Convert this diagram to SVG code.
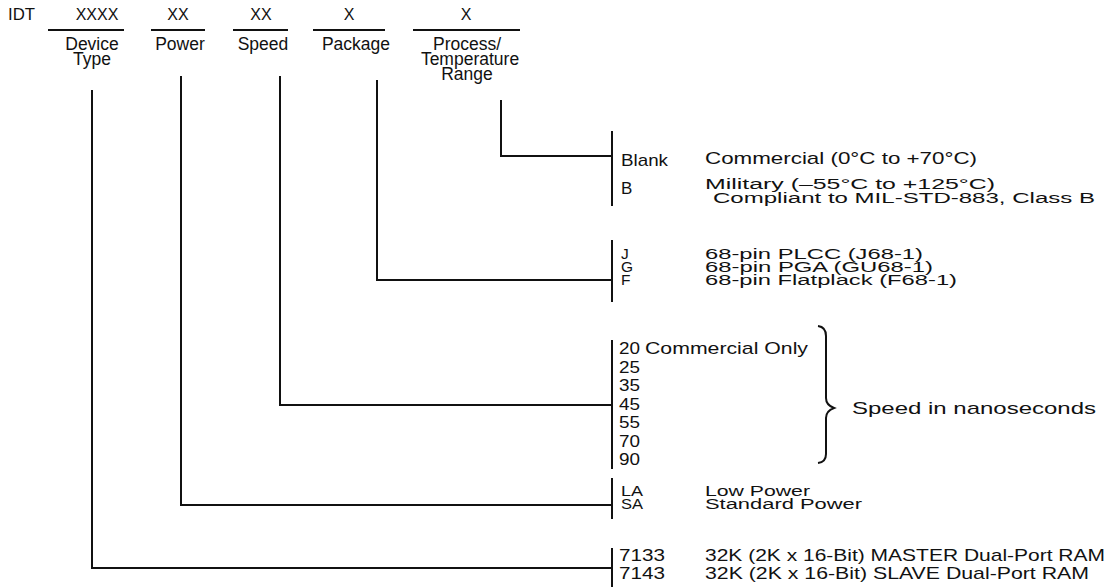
<svg xmlns="http://www.w3.org/2000/svg" width="1111" height="587" viewBox="0 0 1111 587">
<style>
text{font-family:"Liberation Sans",Arial,Helvetica,sans-serif;font-size:17px;fill:#111}
.h{font-size:16px}
.l{font-size:17.5px}
.s{font-size:15.5px}
.c{text-anchor:middle}
.ln{stroke:#111;stroke-width:2;fill:none}
</style>
<rect width="1111" height="587" fill="#fff"/>
<g id="header">
<text class="h" x="8" y="20" textLength="27" lengthAdjust="spacingAndGlyphs">IDT</text>
<text class="h c" x="97" y="20">XXXX</text>
<text class="h c" x="178" y="20">XX</text>
<text class="h c" x="261" y="20">XX</text>
<text class="h c" x="349" y="20">X</text>
<text class="h c" x="466" y="20">X</text>
<path class="ln" d="M48 30H124M151 30H205M233 30H288M313 30H385M413 30H520"/>
</g>
<g id="device-type"><text class="l c" x="92" y="50">Device</text><text class="l c" x="92" y="65">Type</text></g>
<g id="power"><text class="l c" x="180" y="50">Power</text></g>
<g id="speed"><text class="l c" x="263" y="50">Speed</text></g>
<g id="package"><text class="l c" x="356" y="50">Package</text></g>
<g id="process"><text class="l c" x="467" y="50">Process/</text><text class="l c" x="470" y="65">Temperature</text><text class="l c" x="467" y="80">Range</text></g>
<g id="connectors">
<path class="ln" d="M501 100V156H612"/>
<path class="ln" d="M377 80V280H612"/>
<path class="ln" d="M280 76V405H612"/>
<path class="ln" d="M181 76V505H612"/>
<path class="ln" d="M92 90V568H612"/>
</g>
<g id="opt-process">
<path class="ln" d="M612 131V206"/>
<text x="621" y="166" textLength="47" lengthAdjust="spacingAndGlyphs">Blank</text>
<text x="705" y="164" textLength="272" lengthAdjust="spacingAndGlyphs">Commercial (0°C to +70°C)</text>
<text x="621" y="194">B</text>
<text class="s" x="705" y="189" textLength="290" lengthAdjust="spacingAndGlyphs">Military (–55°C to +125°C)</text>
<text class="s" x="713" y="203" textLength="382" lengthAdjust="spacingAndGlyphs">Compliant to MIL-STD-883, Class B</text>
</g>
<g id="opt-package">
<path class="ln" d="M612 240V302"/>
<text class="s" x="621" y="259">J</text><text class="s" x="705" y="259" textLength="218" lengthAdjust="spacingAndGlyphs">68-pin PLCC (J68-1)</text>
<text class="s" x="621" y="272">G</text><text class="s" x="705" y="272" textLength="228" lengthAdjust="spacingAndGlyphs">68-pin PGA (GU68-1)</text>
<text class="s" x="621" y="285">F</text><text class="s" x="705" y="285" textLength="252" lengthAdjust="spacingAndGlyphs">68-pin Flatplack (F68-1)</text>
</g>
<g id="opt-speed">
<path class="ln" d="M612 340V469"/>
<text x="619" y="354" textLength="21" lengthAdjust="spacingAndGlyphs">20</text><text x="645" y="354" textLength="163" lengthAdjust="spacingAndGlyphs">Commercial Only</text>
<text x="619" y="372.5" textLength="21" lengthAdjust="spacingAndGlyphs">25</text>
<text x="619" y="391" textLength="21" lengthAdjust="spacingAndGlyphs">35</text>
<text x="619" y="409.5" textLength="21" lengthAdjust="spacingAndGlyphs">45</text>
<text x="619" y="428" textLength="21" lengthAdjust="spacingAndGlyphs">55</text>
<text x="619" y="446.5" textLength="21" lengthAdjust="spacingAndGlyphs">70</text>
<text x="619" y="465" textLength="21" lengthAdjust="spacingAndGlyphs">90</text>
<path class="ln" stroke-width="1.5" d="M818 326Q826 327 826 336V398Q826 405 834 408Q826 411 826 418V454Q826 462 818 463"/>
<text x="852" y="414" textLength="244" lengthAdjust="spacingAndGlyphs">Speed in nanoseconds</text>
</g>
<g id="opt-power">
<path class="ln" d="M612 478V519"/>
<text class="s" x="621" y="496" textLength="22" lengthAdjust="spacingAndGlyphs">LA</text><text class="s" x="705" y="496" textLength="105" lengthAdjust="spacingAndGlyphs">Low Power</text>
<text class="s" x="621" y="509" textLength="22" lengthAdjust="spacingAndGlyphs">SA</text><text class="s" x="705" y="509" textLength="157" lengthAdjust="spacingAndGlyphs">Standard Power</text>
</g>
<g id="opt-device">
<path class="ln" d="M612 548V587"/>
<text x="619" y="561" textLength="46" lengthAdjust="spacingAndGlyphs">7133</text><text x="705" y="561" textLength="400" lengthAdjust="spacingAndGlyphs">32K (2K x 16-Bit) MASTER Dual-Port RAM</text>
<text x="619" y="579" textLength="46" lengthAdjust="spacingAndGlyphs">7143</text><text x="705" y="579" textLength="384" lengthAdjust="spacingAndGlyphs">32K (2K x 16-Bit) SLAVE Dual-Port RAM</text>
</g>
</svg>
